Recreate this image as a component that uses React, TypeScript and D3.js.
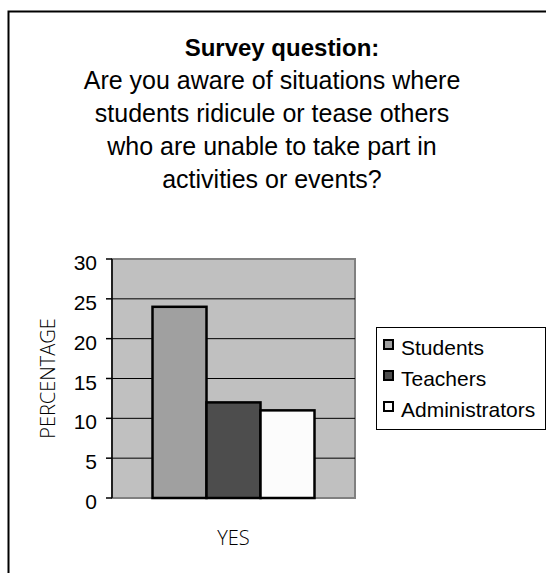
import React from "react";
import * as d3 from "d3";

// Survey response data (percent answering YES)
const categories = ["YES"];
const seriesNames = ["Students", "Teachers", "Administrators"];
const seriesValues = [24, 12, 11];
const seriesColors = ["#a0a0a0", "#4d4d4d", "#fcfcfc"];
const yTicks = [0, 5, 10, 15, 20, 25, 30];

const titleBold = "Survey question:";
const titleLines = [
  "Are you aware of situations where",
  "students ridicule or tease others",
  "who are unable to take part in",
  "activities or events?",
];

const W = 546;
const H = 573;
const plot = { left: 112, right: 355, top: 259, bottom: 498 };
const sans = "'Liberation Sans', Arial, sans-serif";
const thin = "'Open Sans', 'Noto Sans', sans-serif";

export default function App() {
  const y = d3.scaleLinear().domain([0, 30]).range([plot.bottom, plot.top]);
  const x0 = d3
    .scaleBand<string>()
    .domain(categories)
    .range([plot.left, plot.right])
    .paddingInner(0)
    .paddingOuter(0.25);
  const x1 = d3
    .scaleBand<string>()
    .domain(seriesNames)
    .range([0, x0.bandwidth()])
    .padding(0);

  const legend = { x: 376, y: 327, w: 169, h: 102 };

  return (
    <div style={{ position: "absolute", left: 0, top: 0 }}>
      <svg width={W} height={H} style={{ display: "block", background: "#fff" }}>
        {/* outer frame */}
        <rect x={8.5} y={11.5} width={W} height={H} fill="none" stroke="#000" strokeWidth={2} />

        {/* title */}
        <text x={282} y={56} textAnchor="middle" fontFamily={sans} fontSize={24} fontWeight="bold" fill="#000">
          {titleBold}
        </text>
        {titleLines.map((t, i) => (
          <text key={t} x={272} y={89 + i * 33} textAnchor="middle" fontFamily={sans} fontSize={25} fill="#000">
            {t}
          </text>
        ))}

        {/* plot background */}
        <rect
          x={plot.left}
          y={plot.top}
          width={plot.right - plot.left}
          height={plot.bottom - plot.top}
          fill="#c0c0c0"
          stroke="#808080"
          strokeWidth={2}
        />

        {/* gridlines */}
        {yTicks
          .filter((t) => t > 0 && t < 30)
          .map((t) => (
            <line key={t} x1={plot.left} x2={plot.right} y1={y(t)} y2={y(t)} stroke="#000" strokeWidth={1} />
          ))}

        {/* bars */}
        {categories.map((c) => (
          <g key={c} transform={`translate(${x0(c)},0)`}>
            {seriesNames.map((s, i) => (
              <rect
                key={s}
                x={x1(s)}
                y={y(seriesValues[i])}
                width={x1.bandwidth()}
                height={y(0) - y(seriesValues[i])}
                fill={seriesColors[i]}
                stroke="#000"
                strokeWidth={2.5}
              />
            ))}
          </g>
        ))}

        {/* y axis */}
        <line x1={plot.left} x2={plot.left} y1={plot.top} y2={plot.bottom} stroke="#000" strokeWidth={1.5} />
        {yTicks.map((t) => (
          <g key={t}>
            <line x1={plot.left - 6} x2={plot.left} y1={y(t)} y2={y(t)} stroke="#000" strokeWidth={1.5} />
            <text x={97} y={y(t) + 11} textAnchor="end" fontFamily={sans} fontSize={21} fill="#000">
              {t}
            </text>
          </g>
        ))}

        {/* axis titles */}
        <text
          transform={`translate(55,${(plot.top + plot.bottom) / 2}) rotate(-90)`}
          textAnchor="middle"
          fontFamily={thin}
          fontWeight={300}
          fontSize={20}
          fill="#000"
        >
          PERCENTAGE
        </text>
        {categories.map((c) => (
          <text
            key={c}
            x={(x0(c) ?? 0) + x0.bandwidth() / 2}
            y={545}
            textAnchor="middle"
            fontFamily={thin}
            fontWeight={300}
            fontSize={20}
            fill="#000"
          >
            {c}
          </text>
        ))}

        {/* legend */}
        <rect x={legend.x + 0.5} y={legend.y + 0.5} width={legend.w} height={legend.h} fill="#fff" stroke="#000" strokeWidth={1} />
        {seriesNames.map((s, i) => (
          <g key={s} transform={`translate(${legend.x},${legend.y + i * 31})`}>
            <rect x={8} y={13} width={9} height={9} fill={seriesColors[i]} stroke="#000" strokeWidth={2} />
            <text x={25} y={28} fontFamily={sans} fontSize={21} fill="#000">
              {s}
            </text>
          </g>
        ))}
      </svg>
    </div>
  );
}
